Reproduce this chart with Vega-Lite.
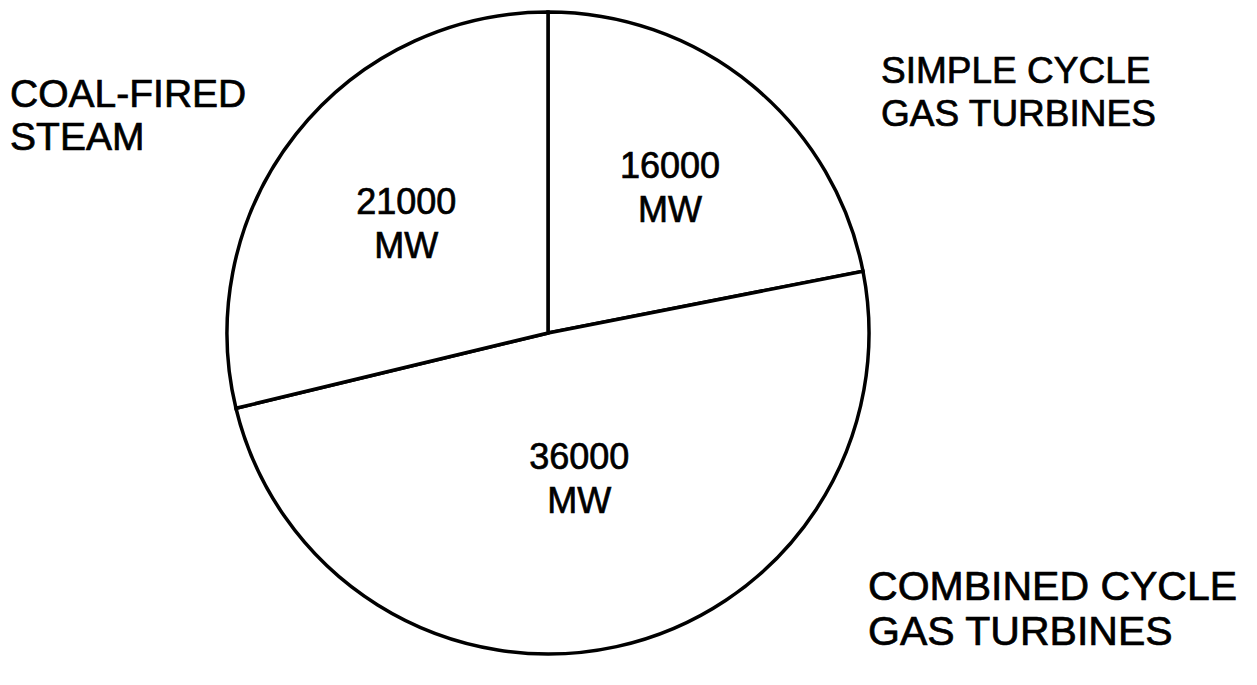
{
  "$schema": "https://vega.github.io/schema/vega-lite/v6.json",
  "autosize": "none",
  "width": 1096,
  "height": 666,
  "padding": {"left": 0, "top": 0, "right": 161, "bottom": 19},
  "background": "white",
  "view": {"stroke": null},
  "data": {
    "values": [
      {"source": "SIMPLE CYCLE\nGAS TURBINES", "MW": 16000, "order": 1},
      {"source": "COMBINED CYCLE\nGAS TURBINES", "MW": 36000, "order": 2},
      {"source": "COAL-FIRED\nSTEAM", "MW": 21000, "order": 3}
    ]
  },
  "transform": [{"calculate": "datum.MW + '\\nMW'", "as": "value_label"}],
  "layer": [
    {
      "mark": {"type": "arc", "outerRadius": 321, "fill": "white", "stroke": "black", "strokeWidth": 3.5},
      "encoding": {
        "theta": {"field": "MW", "type": "quantitative", "stack": true},
        "order": {"field": "order", "type": "quantitative"}
      }
    },
    {
      "mark": {"type": "text", "font": "Liberation Sans", "fontSize": 36, "lineBreak": "\n", "lineHeight": 44, "align": "center", "baseline": "middle", "dy": -18, "fill": "black", "stroke": "black", "strokeWidth": 0.7},
      "encoding": {
        "theta": {"field": "MW", "type": "quantitative", "stack": true},
        "order": {"field": "order", "type": "quantitative"},
        "radius": {"field": "MW", "type": "quantitative", "scale": {"type": "linear", "zero": false, "domain": [16000, 36000], "range": [192, 146]}},
        "text": {"field": "value_label", "type": "nominal"}
      }
    },
    {
      "transform": [{"filter": "datum.order == 1"}],
      "mark": {"type": "text", "theta": 0.927, "radius": 416.4, "font": "Liberation Sans", "fontSize": 37, "lineBreak": "\n", "lineHeight": 43, "align": "left", "baseline": "alphabetic", "fill": "black", "stroke": "black", "strokeWidth": 0.7},
      "encoding": {"text": {"field": "source", "type": "nominal"}}
    },
    {
      "transform": [{"filter": "datum.order == 2"}],
      "mark": {"type": "text", "theta": 2.266, "radius": 416.8, "font": "Liberation Sans", "fontSize": 41, "lineBreak": "\n", "lineHeight": 45, "align": "left", "baseline": "alphabetic", "fill": "black", "stroke": "black", "strokeWidth": 0.7},
      "encoding": {"text": {"field": "source", "type": "nominal"}}
    },
    {
      "transform": [{"filter": "datum.order == 3"}],
      "mark": {"type": "text", "theta": -1.173, "radius": 583.5, "font": "Liberation Sans", "fontSize": 39, "lineBreak": "\n", "lineHeight": 43, "align": "left", "baseline": "alphabetic", "fill": "black", "stroke": "black", "strokeWidth": 0.7},
      "encoding": {"text": {"field": "source", "type": "nominal"}}
    }
  ]
}
